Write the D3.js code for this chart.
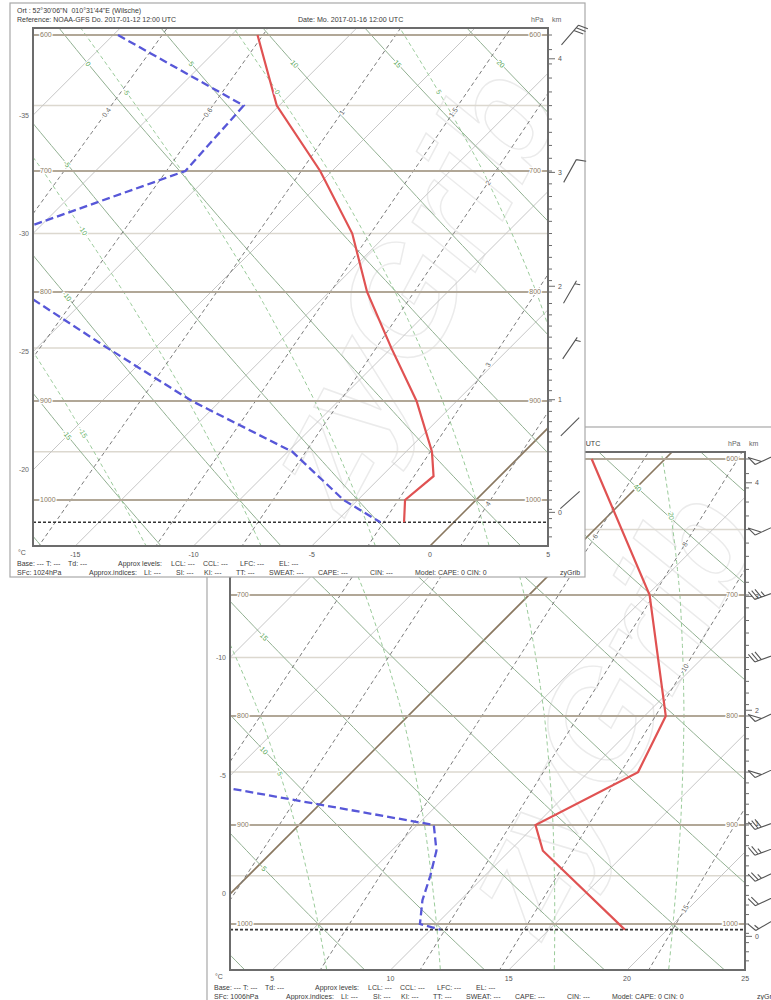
<!DOCTYPE html>
<html><head><meta charset="utf-8">
<script src="https://cdn.jsdelivr.net/npm/d3@7"></script>
<style>
body{margin:0;background:#fff}
svg{display:block}
text{font-family:"Liberation Sans",Arial,sans-serif;white-space:pre}
</style>
</head><body>
<svg id="chart" width="771" height="1000"></svg>
<script>
// ---------- diagram grid ----------
const isobarLevels = [600, 700, 800, 900, 1000];
const isobarMinorLevels = [650, 750, 850, 950];
const isothermValues = d3.range(-100, 55, 5);
const dryAdiabatThetas = d3.range(-40, 85, 5);
const moistAdiabatThetaW = d3.range(-20, 40, 5);
const mixingRatios = [0.2, 0.4, 0.6, 1, 1.5, 2, 3, 4, 6, 8, 10, 15, 20, 25, 30];
const kmTicks = [0, 1, 2, 3, 4];

// ---------- sounding 1 (front) ----------
const s1TempPressure = [600, 650, 700, 750, 800, 850, 900, 950, 975, 1000, 1024];
const s1Temp = [-28.9, -25.1, -20.5, -16.5, -13.4, -10.0, -6.7, -3.9, -2.8, -3.0, -2.1];
const s1DewPressure = [600, 650, 700, 750, 800, 850, 900, 950, 1000, 1024];
const s1Dew = [-34.8, -26.5, -26.2, -31.0, -28.0, -22.0, -16.2, -9.8, -5.6, -3.1];
const s1WindPressure = [600, 700, 800, 850, 925, 1000];
const s1WindDir = [41, 29, 30, 34, 45, 48];
const s1WindSpeed = [30, 10, 5, 5, 2, 2];
const s1TempTicks = [-15, -10, -5, 0, 5];
const s1Surface = 1024;

// ---------- sounding 2 (back) ----------
const s2TempPressure = [600, 700, 800, 850, 900, 925, 1006];
const s2Temp = [-3.1, 5.1, 10.9, 12.1, 10.0, 11.4, 18.2];
const s2DewPressure = [850, 900, 925, 950, 975, 1000, 1006];
const s2Dew = [-9.0, 5.7, 6.9, 7.7, 8.4, 9.3, 10.4];
const s2WindPressure = [600, 650, 700, 750, 800, 850, 900, 925, 950, 975, 1000];
const s2WindDir = [245, 245, 250, 250, 245, 245, 250, 250, 245, 245, 240];
const s2WindSpeed = [50, 50, 35, 30, 50, 50, 30, 25, 25, 20, 15];
const s2TempTicks = [5, 10, 15, 20, 25];
const s2Surface = 1006;

// ---------- texts ----------
const headerLocation = "Ort : 52\u00b030'06\"N  010\u00b031'44\"E (Wilsche)";
const headerReference = "Reference: NOAA-GFS Do. 2017-01-12 12:00 UTC";
const headerDate = "Date: Mo. 2017-01-16 12:00 UTC";
const footerLine1 = ["Base: ---", "T: ---", "Td: ---", "Approx levels:", "LCL: ---", "CCL: ---", "LFC: ---", "EL: ---"];
const footerLine2 = ["Approx.indices:", "LI: ---", "SI: ---", "KI: ---", "TT: ---", "SWEAT: ---", "CAPE: ---", "CIN: ---", "Model: CAPE: 0 CIN: 0", "zyGrib"];
const watermark = "zyGrib";

// ---------- thermodynamics ----------
const RD = 287.04, CP = 1005.7, LV = 2.501e6, EPS = 0.622, KAPPA = RD / CP;
const satVap = tc => 6.112 * Math.exp(17.67 * tc / (tc + 243.5));
const dryT = (th, p) => (th + 273.15) * Math.pow(p / 1000, KAPPA) - 273.15;
function tdFromMixing(w, p) {
  const e = w * p / (622 + w);
  const l = Math.log(e / 6.112);
  return 243.5 * l / (17.67 - l);
}
function moistLapse(tK, p) {
  const e = satVap(tK - 273.15);
  const rs = EPS * e / (p - e);
  return (RD * tK + LV * rs) / p / (CP + LV * LV * rs * EPS / (RD * tK * tK));
}
function moistProfile(tw) {
  const step = 5;
  let t = tw + 273.15, p = 1000;
  const up = [[p, t]];
  while (p > 575) {
    const k1 = moistLapse(t, p), k2 = moistLapse(t - k1 * step, p - step);
    t -= step * (k1 + k2) / 2; p -= step; up.push([p, t]);
  }
  t = tw + 273.15; p = 1000;
  const down = [];
  while (p < 1065) {
    const k1 = moistLapse(t, p), k2 = moistLapse(t + k1 * step, p + step);
    t += step * (k1 + k2) / 2; p += step; down.push([p, t]);
  }
  return down.reverse().concat(up).map(d => [d[0], d[1] - 273.15]);
}
const stdPressure = h => 1013.25 * Math.pow(1 - 2.25577e-5 * h, 5.25588);

const svg = d3.select("#chart");
const yLog = d3.scaleLinear().domain(isobarLevels.map(Math.log)).range([35, 171, 292, 401, 500]);
const pGrid = d3.range(1065, 580, -5);

function zip(a, b) { return a.map((v, i) => [v, b[i]]); }

function drawBarb(g, cx, cy, dir, spd) {
  const L = 26, r = dir * Math.PI / 180;
  const ux = Math.sin(r), uy = -Math.cos(r);
  const px = -uy, py = ux;
  const x1 = cx + ux * L / 2, y1 = cy + uy * L / 2;
  let d = `M${cx - ux * L / 2},${cy - uy * L / 2}L${x1},${y1}`;
  let s = Math.round(spd / 5) * 5, pos = 0;
  const fl = 10, fx = px * 0.94 + ux * 0.34, fy = py * 0.94 + uy * 0.34;
  while (s >= 50) {
    const ax = x1 - ux * pos, ay = y1 - uy * pos;
    d += `M${ax},${ay}L${ax + fx * fl},${ay + fy * fl}L${ax - ux * 7},${ay - uy * 7}`;
    pos += 9; s -= 50;
  }
  while (s >= 10) {
    const ax = x1 - ux * pos, ay = y1 - uy * pos;
    d += `M${ax},${ay}L${ax + fx * fl},${ay + fy * fl}`;
    pos += 3.5; s -= 10;
  }
  if (s >= 5) {
    if (pos === 0) pos = 3.5;
    const ax = x1 - ux * pos, ay = y1 - uy * pos;
    d += `M${ax},${ay}L${ax + fx * fl * 0.55},${ay + fy * fl * 0.55}`;
  }
  g.append("path").attr("d", d).attr("fill", "none").attr("stroke", "#555").attr("stroke-width", 1.1);
}

function drawPanel(cfg) {
  const g = svg.append("g").attr("transform", `translate(${cfg.dx},${cfg.dy})`);
  const L = 33, R = 548, T = 28, B = 546;
  const y = p => yLog(Math.log(p));
  const xs = d3.scaleLinear().domain([0, 1]).range([cfg.tZeroX, cfg.tZeroX + 23.65]);
  const X = (t, p) => xs(t) + (B - y(p));
  const line = d3.line().x(d => X(d[1], d[0])).y(d => y(d[0]));

  // window
  g.append("rect").attr("x", 10).attr("y", 3).attr("width", 575).attr("height", 574)
    .attr("fill", "#fff").attr("stroke", "#a8a8a8").attr("stroke-width", 1.2);

  const clipId = "plotclip" + cfg.id;
  g.append("clipPath").attr("id", clipId).append("rect")
    .attr("x", L).attr("y", T).attr("width", R - L).attr("height", B - T);
  const plot = g.append("g").attr("clip-path", `url(#${clipId})`);

  // faint logo behind the grid
  const wx = R - 140, wy = (T + B) / 2;
  plot.append("text").attr("x", wx).attr("y", wy).attr("text-anchor", "middle").attr("dy", "0.35em")
    .attr("transform", `rotate(-62,${wx},${wy})`)
    .attr("font-size", "150px").attr("font-style", "italic").attr("font-weight", "bold")
    .attr("fill", "none").attr("stroke", "#ebebeb").attr("stroke-width", 1.4)
    .text(watermark);

  // minor isobars
  plot.selectAll(".pmin").data(isobarMinorLevels).join("line")
    .attr("x1", L).attr("x2", R).attr("y1", y).attr("y2", y)
    .attr("stroke", "#dcd8cf").attr("stroke-width", 1.5);

  // isotherms
  plot.selectAll(".iso").data(isothermValues).join("path")
    .attr("d", t => line([[1065, t], [580, t]]))
    .attr("fill", "none")
    .attr("stroke", t => t === 0 ? "#8a7860" : "#c6c6c6")
    .attr("stroke-width", t => t === 0 ? 1.6 : 1);

  // dry adiabats
  plot.selectAll(".dry").data(dryAdiabatThetas).join("path")
    .attr("d", th => line(pGrid.map(p => [p, dryT(th, p)])))
    .attr("fill", "none").attr("stroke", "#91b091").attr("stroke-width", 1);

  // saturated adiabats
  const moist = moistAdiabatThetaW.map(tw => ({ tw, pts: moistProfile(tw) }));
  plot.selectAll(".moist").data(moist).join("path")
    .attr("d", m => line(m.pts))
    .attr("fill", "none").attr("stroke", "#9acb9a").attr("stroke-width", 1)
    .attr("stroke-dasharray", "4,3");

  // mixing ratio lines
  plot.selectAll(".mix").data(mixingRatios).join("path")
    .attr("d", w => line(pGrid.map(p => [p, tdFromMixing(w, p)])))
    .attr("fill", "none").attr("stroke", "#7a7a7a").attr("stroke-width", 1)
    .attr("stroke-dasharray", "4,3");

  // main isobars
  plot.selectAll(".pmaj").data(isobarLevels).join("line")
    .attr("x1", L).attr("x2", R).attr("y1", y).attr("y2", y)
    .attr("stroke", "#b1a797").attr("stroke-width", 2);

  // surface pressure
  plot.append("line").attr("x1", L).attr("x2", R)
    .attr("y1", y(cfg.surface)).attr("y2", y(cfg.surface))
    .attr("stroke", "#333").attr("stroke-width", 1.6).attr("stroke-dasharray", "3,2");

  // profiles
  plot.append("path").attr("d", line(zip(cfg.dewP, cfg.dew)))
    .attr("fill", "none").attr("stroke", "#5757d8").attr("stroke-width", 2.3)
    .attr("stroke-dasharray", "8,4");
  plot.append("path").attr("d", line(zip(cfg.tempP, cfg.temp)))
    .attr("fill", "none").attr("stroke", "#e05252").attr("stroke-width", 2.2);

  // line labels
  const lab = plot.append("g").attr("font-size", "7px");
  function placeLabel(pts, pFix, okFn, xAlt, txt, color, upward) {
    const proj = pts.map(d => [X(d[1], d[0]), y(d[0]), d[0]]).sort((a, b) => b[2] - a[2]);
    let pt = null, i0 = -1;
    for (let i = 0; i < proj.length - 1; i++) {
      if ((proj[i][2] - pFix) * (proj[i + 1][2] - pFix) <= 0) { i0 = i; break; }
    }
    if (i0 >= 0) {
      const a = proj[i0], b = proj[i0 + 1], f = (pFix - a[2]) / (b[2] - a[2]);
      pt = [a[0] + f * (b[0] - a[0]), a[1] + f * (b[1] - a[1]), i0];
      if (!okFn(pt[0])) pt = null;
    }
    if (!pt) {
      for (let i = 0; i < proj.length - 1; i++) {
        const a = proj[i], b = proj[i + 1];
        if ((a[0] - xAlt) * (b[0] - xAlt) <= 0 && a[0] !== b[0]) {
          const f = (xAlt - a[0]) / (b[0] - a[0]);
          const yy = a[1] + f * (b[1] - a[1]);
          if (yy > T + 8 && yy < B - 8) { pt = [xAlt, yy, i]; break; }
        }
      }
    }
    if (!pt) return;
    const a = proj[pt[2]], b = proj[pt[2] + 1];
    let ang = Math.atan2(a[1] - b[1], a[0] - b[0]) * 180 / Math.PI;
    if (upward) ang = Math.atan2(b[1] - a[1], b[0] - a[0]) * 180 / Math.PI;
    lab.append("text").attr("x", pt[0]).attr("y", pt[1]).attr("dy", "0.35em")
      .attr("text-anchor", "middle").attr("fill", color)
      .attr("stroke", "#fff").attr("stroke-width", 2.4).attr("paint-order", "stroke")
      .attr("transform", `rotate(${ang},${pt[0]},${pt[1]})`).text(txt);
  }
  dryAdiabatThetas.forEach(th => placeLabel(pGrid.map(p => [p, dryT(th, p)]), 620,
    x => x > L + 30 && x < R - 10, L + 34, th, "#4f9f4f", false));
  moist.forEach(m => placeLabel(m.pts, 640,
    x => x > L + 45 && x < R - 10, L + 50, m.tw, "#5fae5f", false));
  mixingRatios.forEach(w => placeLabel(pGrid.map(p => [p, tdFromMixing(w, p)]), 655,
    x => x > L + 10 && x < R - 60, R - 60, w, "#666", true));

  // plot border
  g.append("rect").attr("x", L).attr("y", T).attr("width", R - L).attr("height", B - T)
    .attr("fill", "none").attr("stroke", "#6c6c6c").attr("stroke-width", 2);

  const txt = g.append("g").attr("font-size", "7px").attr("fill", "#3a3a3a");

  // isobar labels
  const pl = g.append("g").attr("font-size", "7px").attr("fill", "#8a7a62")
    .attr("stroke", "#fff").attr("stroke-width", 2.4).attr("paint-order", "stroke");
  isobarLevels.forEach(p => {
    pl.append("text").attr("x", L + 7).attr("y", y(p)).attr("dy", "0.35em").text(p);
    pl.append("text").attr("x", R - 7).attr("y", y(p)).attr("dy", "0.35em")
      .attr("text-anchor", "end").text(p);
  });

  // isotherm labels on the left edge
  isothermValues.forEach(t => {
    const yy = xs(t) + B - L;
    if (yy > T + 5 && yy < B - 20)
      txt.append("text").attr("x", L - 4).attr("y", yy).attr("dy", "0.35em")
        .attr("text-anchor", "end").attr("fill", "#666").text(t);
  });

  // temperature axis
  cfg.tempTicks.forEach(t => {
    txt.append("text").attr("x", xs(t)).attr("y", B + 11).attr("text-anchor", "middle")
      .attr("fill", "#555").text(t);
  });
  txt.append("text").attr("x", 18).attr("y", B + 9).attr("fill", "#555").text("\u00b0C");

  // right axis: 10 hPa ticks and km
  const ax = g.append("g").attr("stroke", "#6c6c6c").attr("stroke-width", 1);
  d3.range(600, 1051, 10).forEach(p => {
    const yy = y(p);
    if (yy > T + 2 && yy < B - 2) ax.append("line").attr("x1", R).attr("x2", R + 4).attr("y1", yy).attr("y2", yy);
  });
  kmTicks.forEach(h => {
    const yy = y(stdPressure(h * 1000));
    ax.append("line").attr("x1", R).attr("x2", R + 7).attr("y1", yy).attr("y2", yy);
    txt.append("text").attr("x", R + 10).attr("y", yy).attr("dy", "0.35em")
      .attr("fill", "#555").text(h);
  });

  // wind barbs
  const bg = g.append("g");
  cfg.windP.forEach((p, i) => drawBarb(bg, R + 22, y(p), cfg.windDir[i], cfg.windSpd[i]));

  // header
  txt.append("text").attr("x", 17).attr("y", 13).text(headerLocation);
  txt.append("text").attr("x", 17).attr("y", 22).text(headerReference);
  txt.append("text").attr("x", 298).attr("y", 22).attr("font-size", "7.1px").text(headerDate);
  txt.append("text").attr("x", 531).attr("y", 22).attr("fill", "#666").text("hPa");
  txt.append("text").attr("x", 552).attr("y", 22).attr("fill", "#666").text("km");

  // footer
  const f1x = [17, 46, 68, 118, 171, 203, 240, 279];
  footerLine1.forEach((s, i) => txt.append("text").attr("x", f1x[i]).attr("y", 565.5).text(s));
  txt.append("text").attr("x", 17).attr("y", 574.5).text(`SFc: ${cfg.surface}hPa`);
  const f2x = [89, 144, 176, 204, 236, 269, 318, 370, 415, 560];
  footerLine2.forEach((s, i) => txt.append("text").attr("x", f2x[i]).attr("y", 574.5).text(s));
}

drawPanel({
  id: 2, dx: 197, dy: 424, tZeroX: -43, surface: s2Surface,
  tempP: s2TempPressure, temp: s2Temp, dewP: s2DewPressure, dew: s2Dew,
  windP: s2WindPressure, windDir: s2WindDir, windSpd: s2WindSpeed, tempTicks: s2TempTicks
});
drawPanel({
  id: 1, dx: 0, dy: 0, tZeroX: 430, surface: s1Surface,
  tempP: s1TempPressure, temp: s1Temp, dewP: s1DewPressure, dew: s1Dew,
  windP: s1WindPressure, windDir: s1WindDir, windSpd: s1WindSpeed, tempTicks: s1TempTicks
});
</script>
</body></html>
